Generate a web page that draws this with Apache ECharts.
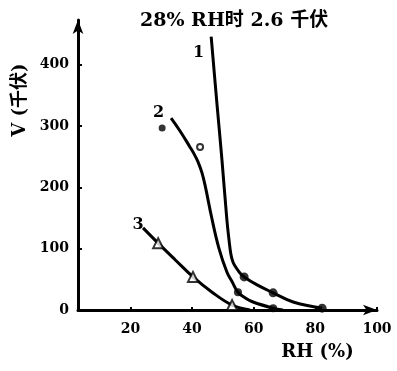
<!DOCTYPE html>
<html>
<head>
<meta charset="utf-8">
<script src="https://cdn.jsdelivr.net/npm/echarts@6/dist/echarts.min.js"></script>
<style>
  html, body { margin: 0; padding: 0; background: #fff; }
  #chart { width: 397px; height: 371px; }
</style>
</head>
<body>
<div id="chart"></div>
<script>
// Relative humidity (%) and breakdown voltage (kV) along three curves
const rh1 = [46.2, 48.1, 49.7, 51.3, 52.0, 52.6, 53.3, 54.3, 55.6, 56.9, 61.1, 66.3, 72.8, 82.2];
const v1  = [446, 335, 245, 147, 114, 91, 78, 69, 60, 54, 41, 28, 13, 3];
const marked1 = [9, 11, 13];

const rh2 = [33.2, 36.1, 39.3, 40.6, 41.9, 43.2, 44.2, 46.4, 48.7, 51.3, 53.0, 54.9, 57.2, 59.8, 66.3, 69.5];
const v2  = [313, 292, 266, 255, 242, 224, 204, 150, 101, 62, 46, 29, 20, 13, 3, 0];
const marked2 = [11, 14];

const rh3 = [24.1, 29.0, 34.5, 40.3, 46.5, 53.0, 58.8];
const v3  = [134, 109, 82, 54, 29, 8, 0];
const marked3 = [1, 3, 5];

// Loose measurements beside curve 2
const extraFilled = [[30.3, 297]];
const extraOpen = [[42.6, 266]];

const xTicks = [20, 40, 60, 80, 100];
const yTicks = [0, 100, 200, 300, 400];

const curveNames = ['1', '2', '3'];
const titleText = '28% RH时 2.6 千伏';
const yName = 'V (千伏)';
const xName = 'RH (%)';

const FONT = "'DejaVu Serif', 'Liberation Serif', 'Noto Sans CJK SC', serif";

function pairs(xs, ys) { return xs.map((x, i) => [x, ys[i]]); }
function pick(xs, ys, idx) { return idx.map(i => [xs[i], ys[i]]); }

function curve(name, data, labelOpt) {
  const d = data.map((p, i) => i === 0 ? {
    value: p,
    label: Object.assign({ show: true, formatter: name, color: '#000', fontSize: 16, fontWeight: 'bold', fontFamily: FONT }, labelOpt)
  } : p);
  return {
    type: 'line', data: d, smooth: 0.4,
    symbol: 'circle', symbolSize: 0.1, showSymbol: true,
    lineStyle: { color: '#000', width: 3 }, itemStyle: { color: '#000' }, z: 3
  };
}

const chart = echarts.init(document.getElementById('chart'));
chart.setOption({
  backgroundColor: '#fff',
  animation: false,
  title: {
    text: titleText, left: 135, top: 7,
    textStyle: { fontSize: 19, fontWeight: 'bold', color: '#000', fontFamily: FONT }
  },
  graphic: [{
    type: 'text', x: 20, y: 100, rotation: Math.PI / 2,
    style: { text: yName, fill: '#000', font: "bold 18px " + FONT, textAlign: 'center', textVerticalAlign: 'middle' }
  }],
  grid: { left: 78, right: 20, top: 20, bottom: 61, containLabel: false, outerBoundsMode: 'none' },
  xAxis: {
    type: 'value', min: 3, max: 100,
    name: xName, nameLocation: 'middle', nameGap: 33,
    nameTextStyle: { color: '#000', fontSize: 18, fontWeight: 'bold', fontFamily: FONT, padding: [0, 0, 0, 180] },
    axisLine: { lineStyle: { color: '#000', width: 3 }, symbol: ['none', 'arrow'], symbolSize: [8, 14] },
    axisTick: { show: true, inside: true, length: 3, customValues: xTicks, lineStyle: { color: '#000', width: 2 } },
    axisLabel: { customValues: xTicks, color: '#000', fontSize: 14, fontWeight: 'bold', fontFamily: FONT, margin: 12 },
    splitLine: { show: false }
  },
  yAxis: {
    type: 'value', min: 0, max: 473,
    axisLine: { lineStyle: { color: '#000', width: 3 }, symbol: ['none', 'arrow'], symbolSize: [8, 14] },
    axisTick: { show: true, inside: true, length: 4, customValues: yTicks, lineStyle: { color: '#000', width: 2 } },
    axisLabel: { customValues: yTicks, color: '#000', fontSize: 14, fontWeight: 'bold', fontFamily: FONT, margin: 9 },
    splitLine: { show: false }
  },
  series: [
    curve(curveNames[0], pairs(rh1, v1), { position: 'left', offset: [-2, 16] }),
    curve(curveNames[1], pairs(rh2, v2), { position: 'left', offset: [-2, -5] }),
    curve(curveNames[2], pairs(rh3, v3), { position: 'inside', offset: [-5, -3] }),
    { type: 'scatter', data: pick(rh1, v1, marked1), symbol: 'circle', symbolSize: 9, itemStyle: { color: '#000' }, z: 4 },
    { type: 'scatter', data: pick(rh2, v2, marked2), symbol: 'circle', symbolSize: 8, itemStyle: { color: '#000' }, z: 4 },
    { type: 'scatter', data: pick(rh3, v3, marked3), symbol: 'triangle', symbolSize: 10, itemStyle: { color: '#fff', borderColor: '#000', borderWidth: 2 }, z: 4 },
    { type: 'scatter', data: extraFilled, symbol: 'circle', symbolSize: 7, itemStyle: { color: '#000' }, z: 4 },
    { type: 'scatter', data: extraOpen, symbol: 'circle', symbolSize: 6, itemStyle: { color: '#fff', borderColor: '#000', borderWidth: 2 }, z: 4 }
  ]
});
</script>
</body>
</html>
